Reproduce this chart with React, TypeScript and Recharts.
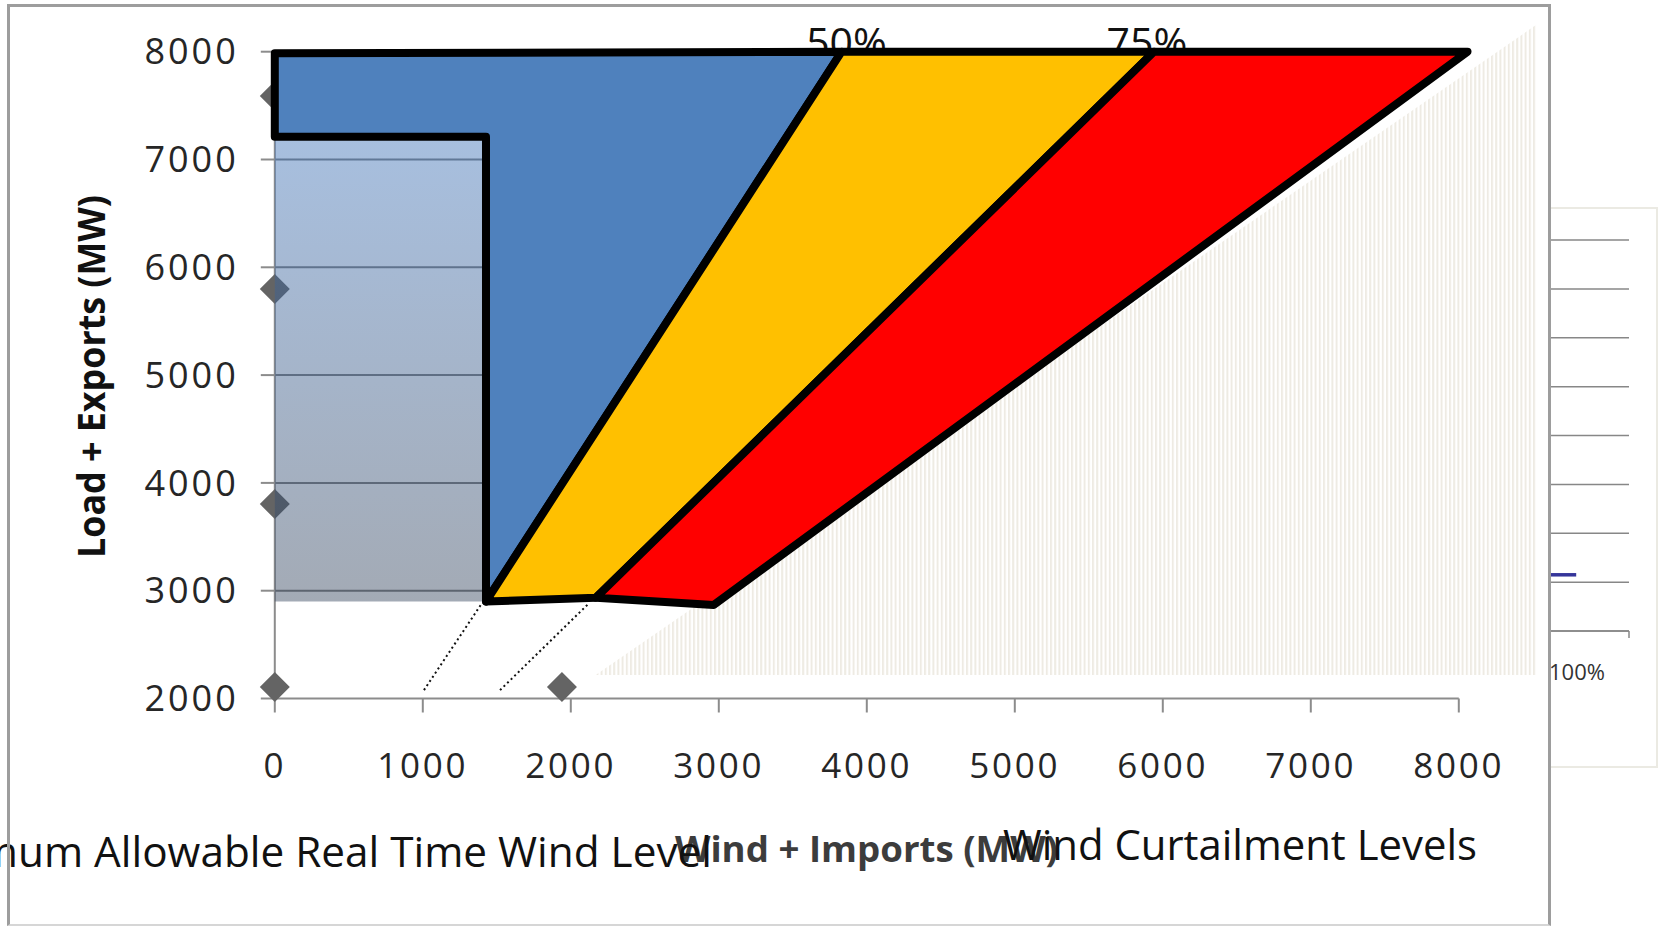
import React from 'react';
import { ComposedChart, Scatter, Line, XAxis, YAxis, CartesianGrid, Label } from 'recharts';

const FONT = '"Open Sans", "DejaVu Sans", sans-serif';

// axes of the main chart
const X_TICKS = [0, 1000, 2000, 3000, 4000, 5000, 6000, 7000, 8000];
const Y_TICKS = [2000, 3000, 4000, 5000, 6000, 7000, 8000];

// curtailment zones, corner by corner (MW)
const blueZone = [
  { x: 0, y: 7985 },
  { x: 3830, y: 8000 },
  { x: 1427, y: 2900 },
  { x: 1427, y: 7210 },
  { x: 0, y: 7210 },
];
const yellowZone = [
  { x: 3830, y: 8000 },
  { x: 5941, y: 8000 },
  { x: 2170, y: 2935 },
  { x: 1427, y: 2900 },
];
const redZone = [
  { x: 5941, y: 8000 },
  { x: 8059, y: 8000 },
  { x: 2965, y: 2867 },
  { x: 2170, y: 2935 },
];
const maxWindBox = [
  { x: 0, y: 7210 },
  { x: 1427, y: 7210 },
  { x: 1427, y: 2900 },
  { x: 0, y: 2900 },
];
const hatchZone = [
  { x: 2168, y: 2218 },
  { x: 8526, y: 2218 },
  { x: 8526, y: 8252 },
];

const operatingPoints = [
  { x: 0, y: 7589 },
  { x: 0, y: 5799 },
  { x: 0, y: 3804 },
  { x: 0, y: 2107 },
  { x: 1940, y: 2107 },
];

// pairs of points: each pair is one segment
const guideLines = [
  { x: 1008, y: 2078 }, { x: 1400, y: 2885 },
  { x: 1522, y: 2078 }, { x: 2124, y: 2885 },
];
const gridSegments = [
  { x: 0, y: 3000 }, { x: 1427, y: 3000 },
  { x: 0, y: 4000 }, { x: 1427, y: 4000 },
  { x: 0, y: 5000 }, { x: 1427, y: 5000 },
  { x: 0, y: 6000 }, { x: 1427, y: 6000 },
  { x: 0, y: 7000 }, { x: 1427, y: 7000 },
];
const axisSegments = [
  { x: 0, y: 2000 }, { x: 8000, y: 2000 },
  { x: 0, y: 2000 }, { x: 0, y: 8000 },
];

const levelLabels = [
  { x: 3863, y: 7951, label: '50%' },
  { x: 5893, y: 7951, label: '75%' },
];

// the cut-off panel on the right
const PANEL_Y_TICKS = [0, 1, 2, 3, 4, 5, 6, 7, 8];
const PANEL_X_TICKS = [0.35, 1];
const panelSeries = [
  { x: 0, y: 1.15 },
  { x: 0.34, y: 1.15 },
];

const polygon = (fill: string, extra: any = {}) => (props: any) => {
  const pts = props.points || [];
  const d = pts.map((p: any, i: number) => `${i ? 'L' : 'M'}${p.x},${p.y}`).join(' ') + ' Z';
  return <path d={d} fill={fill} {...extra} />;
};

const segments = (stroke: string, width: number, dash?: string) => (props: any) => {
  const pts = props.points || [];
  let d = '';
  for (let i = 0; i + 1 < pts.length; i += 2) {
    d += `M${pts[i].x},${pts[i].y} L${pts[i + 1].x},${pts[i + 1].y} `;
  }
  return <path d={d} fill="none" stroke={stroke} strokeWidth={width} strokeDasharray={dash} />;
};

const noDot = () => <g />;

const diamond = (props: any) => {
  const { cx, cy } = props;
  const r = 15;
  return <polygon points={`${cx},${cy - r} ${cx + r},${cy} ${cx},${cy + r} ${cx - r},${cy}`} fill="#646464" />;
};

const levelText = (props: any) => (
  <text x={props.cx} y={props.cy} textAnchor="middle" fontSize={41} fontFamily={FONT} fill="#111">
    {props.payload.label}
  </text>
);

const zoneStroke = { stroke: '#000', strokeWidth: 8, strokeLinejoin: 'round' };

const panelTick = (props: any) => {
  const { x, y, payload } = props;
  if (payload.value === 1) {
    return <line x1={x} x2={x} y1={y - 8} y2={y - 1} stroke="#878787" strokeWidth={1.5} />;
  }
  return (
    <text x={x} y={y + 41} textAnchor="middle" fontSize={22} fontFamily={FONT} fill="#333">
      100%
    </text>
  );
};

const App: React.FC = () => {
  return (
    <div style={{ position: 'absolute', left: 0, top: 0, width: 1668, height: 927, overflow: 'hidden', background: '#fff' }}>
      <div style={{ position: 'absolute', left: 0, top: 0 }}>
        <ComposedChart
          width={1668}
          height={927}
          margin={{ top: 19.36, right: 120.4, bottom: 168.5, left: 174.8 }}
        >
          <defs>
            <linearGradient id="maxWindFill" x1="0" y1="0" x2="0" y2="1">
              <stop offset="0%" stopColor="rgb(60,113,184)" />
              <stop offset="100%" stopColor="rgb(51,67,91)" />
            </linearGradient>
            <pattern id="hatch" patternUnits="userSpaceOnUse" width="4.2" height="8">
              <rect x="0" y="0" width="2" height="8" fill="#eeebe3" />
            </pattern>
          </defs>
          <XAxis
            type="number"
            dataKey="x"
            domain={[0, 8600]}
            ticks={X_TICKS}
            interval={0}
            axisLine={false}
            tickLine={{ stroke: '#8c8c8c', strokeWidth: 2 }}
            tickSize={14}
            tickMargin={41}
            height={60}
            tick={{ fontSize: 35, fill: '#262626', fontFamily: FONT, letterSpacing: 2.8 }}
          >
            <Label
              content={() => (
                <text x={866.5} y={862} textAnchor="middle" fontSize={35} fontWeight={700} fontFamily={FONT} fill="#3c3c3c" textLength={383} lengthAdjust="spacingAndGlyphs">
                  Wind + Imports (MW)
                </text>
              )}
            />
          </XAxis>
          <YAxis
            type="number"
            dataKey="y"
            domain={[2000, 8300]}
            ticks={Y_TICKS}
            interval={0}
            axisLine={false}
            tickLine={{ stroke: '#8c8c8c', strokeWidth: 2 }}
            tickSize={14}
            tickMargin={22}
            width={100}
            tick={{ fontSize: 36, fill: '#262626', fontFamily: FONT, letterSpacing: 3 }}
          >
            <Label
              content={() => (
                <text x={105} y={376.5} transform="rotate(-90, 105, 376.5)" textAnchor="middle" fontSize={37} fontWeight={700} fontFamily={FONT} fill="#111" textLength={363} lengthAdjust="spacingAndGlyphs">
                  Load + Exports (MW)
                </text>
              )}
            />
          </YAxis>

          <Scatter data={hatchZone} line={polygon('url(#hatch)')} shape={noDot} legendType="none" isAnimationActive={false} />
          <Scatter data={gridSegments} line={segments('#7f7f7f', 2)} shape={noDot} legendType="none" isAnimationActive={false} />
          <Scatter data={axisSegments} line={segments('#8c8c8c', 2)} shape={noDot} legendType="none" isAnimationActive={false} />
          <Scatter data={operatingPoints} shape={diamond} legendType="none" isAnimationActive={false} />
          <Scatter data={maxWindBox} line={polygon('url(#maxWindFill)', { fillOpacity: 0.45 })} shape={noDot} legendType="none" isAnimationActive={false} />
          <Scatter data={levelLabels} shape={levelText} legendType="none" isAnimationActive={false} />
          <Scatter data={blueZone} line={polygon('#4f81bd', zoneStroke)} shape={noDot} legendType="none" isAnimationActive={false} />
          <Scatter data={yellowZone} line={polygon('#ffc000', zoneStroke)} shape={noDot} legendType="none" isAnimationActive={false} />
          <Scatter data={redZone} line={polygon('#ff0000', zoneStroke)} shape={noDot} legendType="none" isAnimationActive={false} />
          <Scatter data={guideLines} line={segments('#111', 2, '2 3')} shape={noDot} legendType="none" isAnimationActive={false} />
        </ComposedChart>
      </div>

      <svg width={1668} height={927} style={{ position: 'absolute', left: 0, top: 0, pointerEvents: 'none' }}>
        <text x={712} y={866.7} textAnchor="end" fontSize={42.3} fontFamily={FONT} fill="#111">
          Maximum Allowable Real Time Wind Level
        </text>
        <text x={1003} y={860} fontSize={42} fontFamily={FONT} fill="#111" textLength={474} lengthAdjust="spacingAndGlyphs">
          Wind Curtailment Levels
        </text>
      </svg>

      <div style={{ position: 'absolute', left: 1549, top: 207, width: 109, height: 561, boxSizing: 'border-box', border: '2px solid #ebeae3' }} />
      <div style={{ position: 'absolute', left: 1549, top: 208 }}>
        <ComposedChart width={109} height={560} margin={{ top: 32, right: 29, bottom: 107, left: 0 }}>
          <CartesianGrid vertical={false} stroke="#878787" strokeWidth={1.5} strokeDasharray="" />
          <XAxis
            type="number"
            dataKey="x"
            domain={[0, 1]}
            ticks={PANEL_X_TICKS}
            interval={0}
            height={30}
            axisLine={{ stroke: '#878787', strokeWidth: 1.5 }}
            tickLine={false}
            tick={panelTick}
          />
          <YAxis type="number" domain={[0, 8]} ticks={PANEL_Y_TICKS} hide />
          <Line data={panelSeries} dataKey="y" stroke="#35359a" strokeWidth={3.5} dot={false} isAnimationActive={false} />
        </ComposedChart>
      </div>

      <div
        style={{
          position: 'absolute',
          left: 7,
          top: 3.5,
          width: 1544,
          height: 922.5,
          boxSizing: 'border-box',
          borderLeft: '3px solid #9d9d9d',
          borderTop: '3px solid #9d9d9d',
          borderRight: '3px solid #9d9d9d',
          borderBottom: '2px solid #d6d6d6',
          pointerEvents: 'none',
        }}
      />
    </div>
  );
};

export default App;
